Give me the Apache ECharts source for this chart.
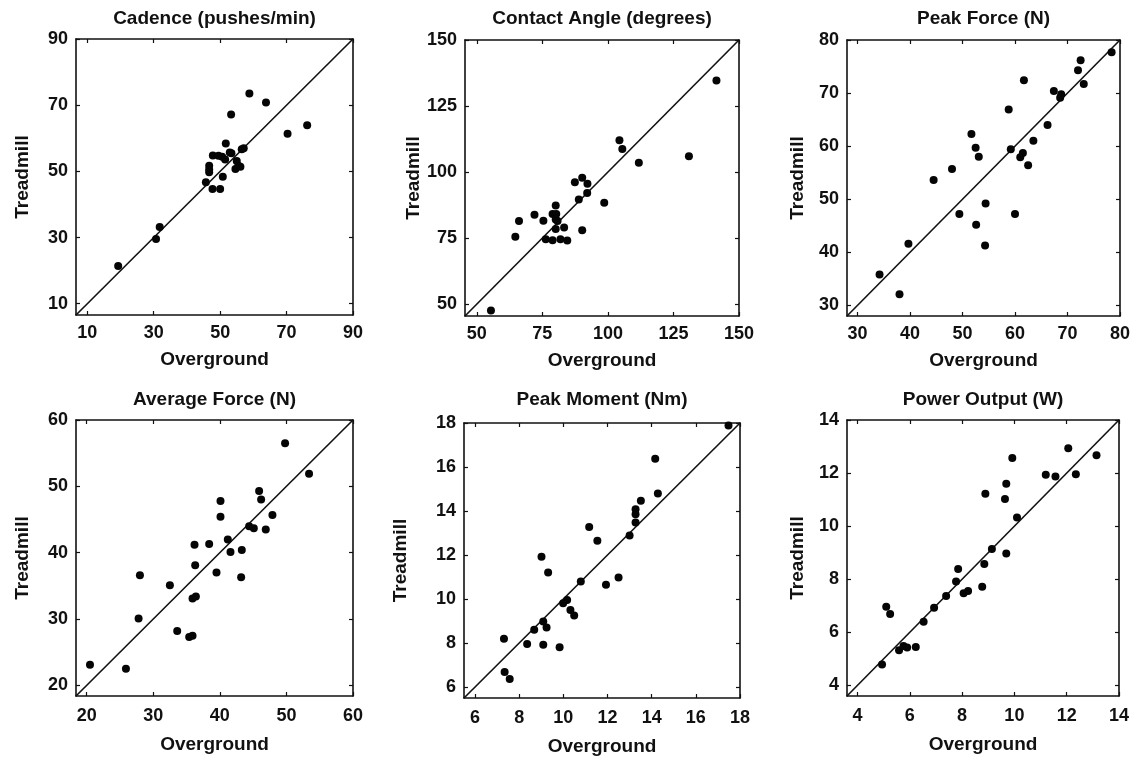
<!DOCTYPE html>
<html>
<head>
<meta charset="utf-8">
<script src="https://cdn.jsdelivr.net/npm/echarts@6/dist/echarts.min.js"></script>
<style>
html,body{margin:0;padding:0;background:#fff;}
#chart{width:1140px;height:759px;}
</style>
</head>
<body>
<div id="chart"></div>
<script>
// ---------- data ----------
const panelTitles = ['Cadence (pushes/min)', 'Contact Angle (degrees)', 'Peak Force (N)',
                     'Average Force (N)', 'Peak Moment (Nm)', 'Power Output (W)'];
const xAxisName = 'Overground';
const yAxisName = 'Treadmill';

const cadenceTicks = [10, 30, 50, 70, 90];
const cadenceOver  = [19.3, 30.7, 31.8, 45.7, 47.7, 50.0, 46.7, 46.7, 46.7, 47.8, 50.8, 49.5, 50.6, 51.5, 51.7, 52.9, 53.4, 53.3, 54.6, 55.5, 56.1, 55.0, 56.5, 57.1, 58.8, 63.8, 70.3, 76.2];
const cadenceTread = [21.4, 29.6, 33.2, 46.7, 44.7, 44.7, 51.7, 50.6, 49.7, 54.8, 48.4, 54.7, 54.4, 53.6, 58.4, 55.7, 55.5, 67.2, 50.7, 51.7, 51.4, 53.1, 56.7, 57.0, 73.5, 70.8, 61.4, 63.9];

const angleTicks = [50, 75, 100, 125, 150];
const angleOver  = [55.4, 64.7, 66.1, 72.0, 75.4, 76.3, 78.9, 80.3, 78.9, 80.1, 80.1, 80.8, 80.1, 81.9, 83.3, 84.5, 87.4, 88.9, 90.2, 90.2, 92.2, 92.1, 98.6, 104.4, 105.5, 111.8, 130.9, 141.4];
const angleTread = [47.6, 75.5, 81.5, 83.8, 81.6, 74.6, 84.1, 84.1, 74.2, 87.3, 82.0, 81.5, 78.4, 74.6, 79.0, 74.1, 96.1, 89.6, 97.8, 78.0, 95.6, 92.1, 88.4, 112.0, 108.7, 103.5, 106.0, 134.7];

const peakForceTicks = [30, 40, 50, 60, 70, 80];
const peakForceOver  = [34.2, 38.0, 39.7, 44.5, 48.0, 49.4, 51.7, 52.5, 53.1, 52.6, 54.4, 54.3, 58.8, 59.2, 60.0, 61.0, 61.5, 61.7, 62.5, 63.5, 66.2, 67.4, 68.6, 68.8, 72.0, 72.5, 73.1, 78.4];
const peakForceTread = [35.8, 32.1, 41.6, 53.6, 55.7, 47.2, 62.3, 59.7, 58.0, 45.2, 49.2, 41.3, 66.9, 59.4, 47.2, 57.9, 58.7, 72.4, 56.4, 61.0, 64.0, 70.4, 69.1, 69.8, 74.3, 76.2, 71.7, 77.7];

const avgForceTicks = [20, 30, 40, 50, 60];
const avgForceOver  = [20.5, 25.9, 27.8, 28.0, 32.5, 33.6, 35.4, 35.9, 35.9, 36.4, 36.2, 36.3, 38.4, 39.5, 40.1, 40.1, 41.2, 41.6, 43.2, 43.3, 44.4, 45.1, 45.9, 46.2, 46.9, 47.9, 49.8, 53.4];
const avgForceTread = [23.1, 22.5, 30.1, 36.6, 35.1, 28.2, 27.3, 27.5, 33.1, 33.4, 41.2, 38.1, 41.3, 37.0, 47.8, 45.4, 42.0, 40.1, 36.3, 40.4, 44.0, 43.7, 49.3, 48.0, 43.5, 45.7, 56.5, 51.9];

const momentTicks = [6, 8, 10, 12, 14, 16, 18];
const momentOver  = [17.48, 14.16, 14.28, 13.51, 13.27, 13.27, 13.27, 13.0, 11.17, 11.54, 12.5, 11.93, 10.79, 9.01, 9.31, 10.17, 9.99, 10.32, 10.49, 9.09, 9.24, 8.68, 8.36, 9.09, 9.83, 7.31, 7.34, 7.57];
const momentTread = [17.89, 16.38, 14.79, 14.47, 14.08, 13.85, 13.48, 12.89, 13.27, 12.65, 10.98, 10.65, 10.79, 11.92, 11.21, 9.96, 9.81, 9.5, 9.25, 8.98, 8.7, 8.6, 7.95, 7.92, 7.81, 8.19, 6.68, 6.36];

const powerTicks = [4, 6, 8, 10, 12, 14];
const powerOver  = [4.94, 5.1, 5.25, 5.59, 5.76, 5.9, 6.23, 6.53, 6.93, 7.39, 7.77, 7.85, 8.06, 8.23, 8.77, 8.85, 8.89, 9.14, 9.64, 9.69, 9.69, 9.92, 10.1, 11.2, 11.57, 12.06, 12.35, 13.14];
const powerTread = [4.79, 6.96, 6.69, 5.32, 5.48, 5.43, 5.45, 6.4, 6.93, 7.37, 7.91, 8.39, 7.47, 7.56, 7.72, 8.57, 11.22, 9.14, 11.02, 11.6, 8.97, 12.57, 10.33, 11.94, 11.87, 12.94, 11.96, 12.67];

// ---------- layout ----------
const panels = [
  {over: cadenceOver,   tread: cadenceTread,   ticks: cadenceTicks,   min: 6.6,  max: 90,  box: [76, 39, 277, 276],  yGap: 44, xMargin: 9,  xGap: 35},
  {over: angleOver,     tread: angleTread,     ticks: angleTicks,     min: 45.5, max: 150, box: [465, 40, 274, 276], yGap: 34, xMargin: 9,  xGap: 35},
  {over: peakForceOver, tread: peakForceTread, ticks: peakForceTicks, min: 28,   max: 80,  box: [847, 40, 273, 276], yGap: 40, xMargin: 9,  xGap: 35},
  {over: avgForceOver,  tread: avgForceTread,  ticks: avgForceTicks,  min: 18.4, max: 60,  box: [76, 420, 277, 276], yGap: 44, xMargin: 11, xGap: 39},
  {over: momentOver,    tread: momentTread,    ticks: momentTicks,    min: 5.5,  max: 18,  box: [464, 423, 276, 275], yGap: 54, xMargin: 11, xGap: 39},
  {over: powerOver,     tread: powerTread,     ticks: powerTicks,     min: 3.6,  max: 14,  box: [847, 420, 272, 276], yGap: 40, xMargin: 11, xGap: 39}
];
const titleY = [19, 19, 19, 400, 400, 400];

const FONT = "'Liberation Sans', Arial, sans-serif";
const INK = '#111111';
const axisLine = {show: true, onZero: false, lineStyle: {color: INK, width: 1.6}};
const labelStyle = {fontFamily: FONT, fontWeight: 'bold', fontSize: 18, color: INK};
const nameStyle = {fontFamily: FONT, fontWeight: 'bold', fontSize: 19, color: INK};

const grid = [], xAxis = [], yAxis = [], series = [], graphic = [];

panels.forEach((p, i) => {
  const [l, t, w, h] = p.box;
  grid.push({left: l, top: t, width: w, height: h, show: false, containLabel: false});
  const tick = {show: true, inside: true, length: 4, customValues: p.ticks, lineStyle: {color: INK, width: 1.2}};
  xAxis.push({
    type: 'value', gridIndex: i, position: 'bottom', min: p.min, max: p.max,
    axisLine, axisTick: tick, splitLine: {show: false},
    axisLabel: Object.assign({customValues: p.ticks, margin: p.xMargin}, labelStyle),
    name: xAxisName, nameLocation: 'middle', nameGap: p.xGap, nameTextStyle: nameStyle
  });
  xAxis.push({
    type: 'value', gridIndex: i, position: 'top', min: p.min, max: p.max,
    axisLine, axisTick: tick, splitLine: {show: false}, axisLabel: {show: false}
  });
  yAxis.push({
    type: 'value', gridIndex: i, position: 'left', min: p.min, max: p.max,
    axisLine, axisTick: tick, splitLine: {show: false},
    axisLabel: Object.assign({customValues: p.ticks, margin: 8}, labelStyle),
    name: yAxisName, nameLocation: 'middle', nameGap: p.yGap, nameTextStyle: nameStyle
  });
  yAxis.push({
    type: 'value', gridIndex: i, position: 'right', min: p.min, max: p.max,
    axisLine, axisTick: tick, splitLine: {show: false}, axisLabel: {show: false}
  });
  series.push({
    type: 'line', xAxisIndex: 2 * i, yAxisIndex: 2 * i,
    data: [[p.min, p.min], [p.max, p.max]],
    showSymbol: false, silent: true, z: 1,
    lineStyle: {color: INK, width: 1.6}
  });
  series.push({
    type: 'scatter', xAxisIndex: 2 * i, yAxisIndex: 2 * i,
    data: p.over.map((v, k) => [v, p.tread[k]]),
    symbolSize: 8, z: 3,
    itemStyle: {color: '#050505', opacity: 1}
  });
  graphic.push({
    type: 'text', x: l + w / 2, y: titleY[i],
    style: {text: panelTitles[i], align: 'center', verticalAlign: 'middle',
            font: "bold 19px 'Liberation Sans', Arial, sans-serif", fill: INK}
  });
});

const chart = echarts.init(document.getElementById('chart'), null, {renderer: 'canvas'});
chart.setOption({
  backgroundColor: '#ffffff',
  animation: false,
  grid, xAxis, yAxis, series, graphic
});
</script>
</body>
</html>
